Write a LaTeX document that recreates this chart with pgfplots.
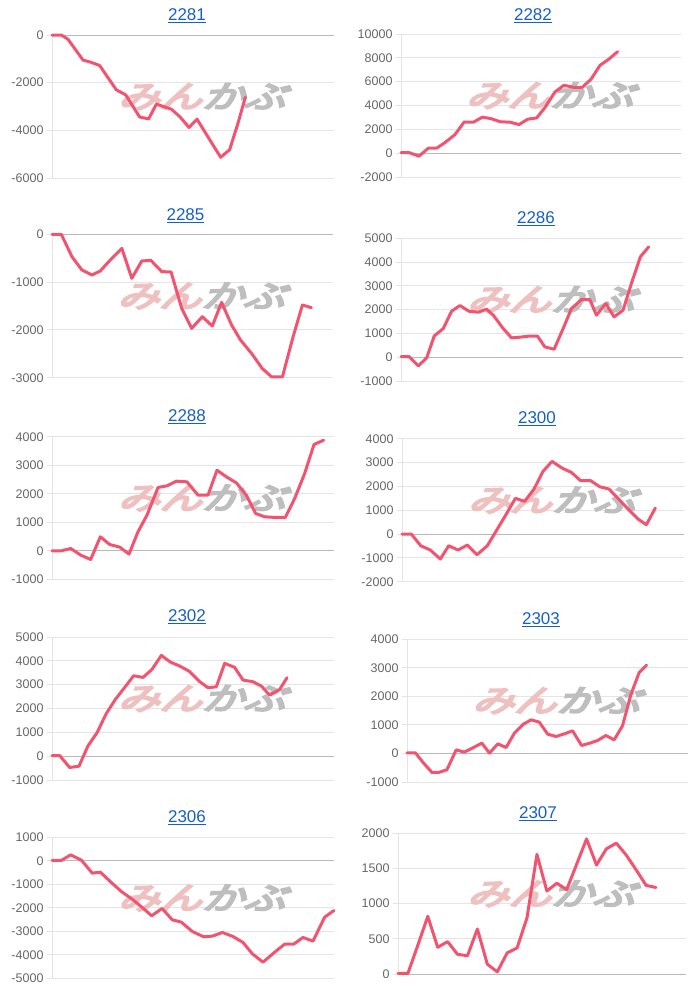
\documentclass[border=0pt]{standalone}
\usepackage{fontspec}
\setmainfont{Liberation Sans}
\newfontfamily\cjk[FakeSlant=0.3,FakeBold=6]{Noto Sans CJK JP}
\usepackage{graphicx}
\usepackage{pgfplots}
\pgfplotsset{compat=1.18}
\definecolor{linec}{RGB}{242,84,112}
\definecolor{gridc}{RGB}{228,228,228}
\definecolor{zeroc}{RGB}{185,185,185}
\definecolor{tickc}{RGB}{102,102,102}
\definecolor{titlec}{RGB}{22,96,196}
\definecolor{wmpink}{RGB}{239,192,192}
\definecolor{wmgray}{RGB}{190,190,190}
\pgfplotsset{
 panel/.style={
  scale only axis,
  axis x line=none,
  axis y line=left,
  y axis line style={draw=gridc,line width=1pt,-},
  ymajorgrids,
  grid style={draw=gridc,line width=1pt},
  ytick style={draw=gridc,line width=1pt},
  tick align=outside,
  major tick length=5pt,
  yticklabel style={font=\fontsize{12.5}{14}\selectfont, text=tickc},
  /pgf/number format/assume math mode=true,
  /pgf/number format/set thousands separator={},
  scaled y ticks=false,
  clip=false,
  xmin=0,
  anchor=south west,
  extra y ticks={0},
  extra y tick labels={},
  extra y tick style={grid style={draw=zeroc,line width=1pt}},
 },
 pline/.style={draw=linec,line width=3pt,line join=round,line cap=round,mark=none},
}
\newcommand{\wm}{\node[inner sep=0pt] at (rel axis cs:0.53,0.57) {\scalebox{1.2}[0.88]{\cjk\fontsize{35}{35}\selectfont\textcolor{wmpink}{みん}\textcolor{wmgray}{かぶ}}};}
\newcommand{\ttl}[3]{\node[text=titlec,font=\fontsize{17}{20}\selectfont] at (#1pt,-#2pt) {\underline{#3}};}
\begin{document}
\begin{tikzpicture}
\path[use as bounding box] (0pt,0pt) rectangle (700pt,-997pt);
% Row 1
\ttl{187}{15.5}{2281}
\begin{axis}[panel, at={(52pt,-178pt)}, width=282pt, height=143pt, xmax=846, ymin=-6000, ymax=0, ytick={-6000,-4000,-2000,0}]
\wm
\addplot[pline] coordinates {(0,0) (28,0) (48,-180) (93,-1050) (118,-1150) (143,-1280) (193,-2300) (221,-2510) (263,-3440) (290,-3520) (313,-2900) (358,-3110) (383,-3420) (411,-3880) (435,-3530) (473,-4390) (506,-5130) (533,-4810) (558,-3700) (580,-2610)};
\end{axis}
\ttl{533}{15.5}{2282}
\begin{axis}[panel, at={(401pt,-177pt)}, width=280pt, height=143pt, xmax=840, ymin=-2000, ymax=10000, ytick={-2000,0,2000,4000,6000,8000,10000}]
\wm
\addplot[pline] coordinates {(0,50) (24,50) (54,-250) (82,420) (107,420) (132,890) (162,1560) (189,2600) (217,2600) (244,3020) (270,2900) (299,2630) (327,2600) (354,2400) (380,2850) (407,2960) (432,3830) (462,5140) (489,5700) (517,5530) (544,5530) (570,6200) (597,7370) (624,7900) (650,8520)};
\end{axis}
% Row 2
\ttl{185.5}{216}{2285}
\begin{axis}[panel, at={(52pt,-377.7pt)}, width=281pt, height=143.4pt, xmax=845, ymin=-3000, ymax=0, ytick={-3000,-2000,-1000,0}]
\wm
\addplot[pline] coordinates {(0,0) (28,0) (60,-468) (90,-747) (120,-851) (145,-768) (180,-502) (210,-293) (240,-921) (270,-558) (297,-544) (330,-781) (358,-788) (390,-1549) (420,-1968) (452,-1724) (482,-1919) (510,-1423) (540,-1898) (567,-2212) (600,-2491) (632,-2805) (660,-2980) (693,-2980) (725,-2143) (753,-1479) (780,-1535)};
\end{axis}
\ttl{536}{219}{2286}
\begin{axis}[panel, at={(401pt,-381pt)}, width=282pt, height=142.7pt, xmax=847, ymin=-1000, ymax=5000, ytick={-1000,0,1000,2000,3000,4000,5000}]
\wm
\addplot[pline] coordinates {(0,28) (24,28) (52,-365) (77,-28) (100,898) (127,1206) (152,1935) (177,2174) (204,1935) (232,1893) (257,2020) (277,1767) (307,1206) (332,814) (357,842) (382,884) (410,884) (432,435) (460,337) (487,1206) (512,2047) (542,2426) (567,2426) (587,1767) (615,2258) (640,1697) (667,1978) (692,3100) (719,4222) (744,4642)};
\end{axis}
% Row 3
\ttl{187}{417}{2288}
\begin{axis}[panel, at={(52pt,-579.3pt)}, width=282pt, height=142.6pt, xmax=846, ymin=-1000, ymax=4000, ytick={-1000,0,1000,2000,3000,4000}]
\wm
\addplot[pline] coordinates {(0,0) (28,0) (56,82) (86,-152) (116,-304) (145,491) (173,222) (203,129) (231,-117) (258,666) (285,1250) (318,2220) (345,2278) (373,2441) (405,2418) (438,1951) (468,1951) (495,2827) (523,2593) (553,2383) (583,1951) (611,1308) (638,1192) (671,1168) (700,1168) (728,1834) (758,2710) (786,3727) (815,3879)};
\end{axis}
\ttl{537}{419}{2300}
\begin{axis}[panel, at={(402pt,-581.7pt)}, width=282pt, height=143pt, xmax=846, ymin=-2000, ymax=4000, ytick={-2000,-1000,0,1000,2000,3000,4000}]
\wm
\addplot[pline] coordinates {(0,0) (28,0) (56,-490) (85,-671) (115,-1049) (140,-490) (168,-671) (196,-462) (225,-867) (256,-490) (283,140) (313,839) (340,1497) (368,1371) (396,1888) (423,2629) (450,3049) (480,2769) (508,2587) (536,2238) (566,2238) (593,1986) (621,1888) (650,1469) (678,1049) (708,629) (733,392) (760,1091)};
\end{axis}
% Row 4
\ttl{187}{617}{2302}
\begin{axis}[panel, at={(52pt,-780pt)}, width=282pt, height=143pt, xmax=846, ymin=-1000, ymax=5000, ytick={-1000,0,1000,2000,3000,4000,5000}]
\wm
\addplot[pline] coordinates {(0,28) (23,28) (53,-476) (81,-420) (108,434) (135,980) (163,1793) (190,2381) (218,2885) (245,3375) (273,3305) (300,3641) (328,4230) (355,3950) (383,3782) (411,3571) (441,3151) (468,2871) (493,2913) (518,3894) (548,3725) (573,3193) (603,3123) (628,2941) (653,2563) (683,2801) (705,3291)};
\end{axis}
\ttl{541}{620}{2303}
\begin{axis}[panel, at={(407pt,-782pt)}, width=281pt, height=142.7pt, xmax=845, ymin=-1000, ymax=4000, ytick={-1000,0,1000,2000,3000,4000}]
\wm
\addplot[pline] coordinates {(0,23) (25,23) (50,-338) (75,-665) (95,-665) (120,-572) (148,128) (172,47) (200,210) (225,362) (248,12) (273,338) (298,210) (323,712) (350,1027) (373,1178) (398,1097) (423,677) (448,595) (473,688) (498,793) (525,280) (550,362) (573,455) (598,630) (623,478) (648,968) (673,2054) (698,2835) (720,3092)};
\end{axis}
% Row 5
\ttl{187}{818}{2306}
\begin{axis}[panel, at={(52pt,-978.3pt)}, width=282pt, height=141pt, xmax=846, ymin=-5000, ymax=1000, ytick={-5000,-4000,-3000,-2000,-1000,0,1000}]
\wm
\addplot[pline] coordinates {(0,14) (28,14) (56,255) (88,28) (121,-525) (145,-482) (178,-922) (208,-1305) (243,-1660) (273,-2014) (299,-2340) (330,-2028) (361,-2511) (388,-2610) (421,-3007) (455,-3234) (481,-3206) (511,-3050) (543,-3220) (573,-3475) (601,-3957) (633,-4312) (673,-3830) (698,-3546) (725,-3546) (753,-3262) (783,-3418) (818,-2397) (846,-2113)};
\end{axis}
\ttl{538}{814}{2307}
\begin{axis}[panel, at={(398pt,-974pt)}, width=288pt, height=140.7pt, xmax=29.02, ymin=0, ymax=2000, ytick={0,500,1000,1500,2000}]
\wm
\addplot[pline] coordinates {(0,10) (1,10) (2,410) (3,820) (4,380) (5,460) (6,280) (7,260) (8,640) (9,140) (10,30) (11,300) (12,370) (13,800) (14,1700) (15,1180) (16,1290) (17,1200) (18,1560) (19,1920) (20,1550) (21,1780) (22,1860) (23,1690) (24,1480) (25,1260) (26,1230)};
\end{axis}
\end{tikzpicture}
\end{document}
